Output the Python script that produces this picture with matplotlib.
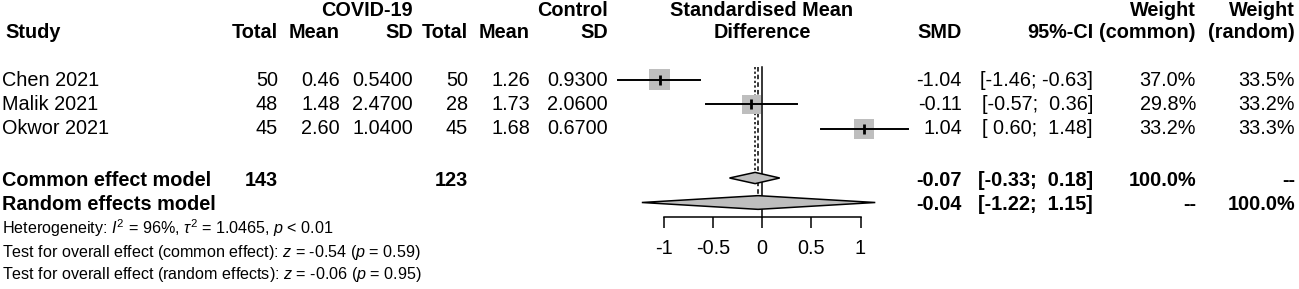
import numpy as np
import matplotlib.pyplot as plt
from matplotlib.patches import Rectangle, Polygon

# study level data
studies = ["Chen 2021", "Malik 2021", "Okwor 2021"]
n_covid = [50, 48, 45]
mean_covid = [0.46, 1.48, 2.60]
sd_covid = [0.54, 2.47, 1.04]
n_ctrl = [50, 28, 45]
mean_ctrl = [1.26, 1.73, 1.68]
sd_ctrl = [0.93, 2.06, 0.67]
smd = [-1.04, -0.11, 1.04]
ci_low = [-1.46, -0.57, 0.60]
ci_high = [-0.63, 0.36, 1.48]
w_common = [37.0, 29.8, 33.2]
w_random = [33.5, 33.2, 33.3]

# pooled results
model_names = ["Common effect model", "Random effects model"]
model_smd = [-0.07, -0.04]
model_low = [-0.33, -1.22]
model_high = [0.18, 1.15]
model_w_common = ["100.0%", "--"]
model_w_random = ["--", "100.0%"]
total_covid = 143
total_ctrl = 123

x_ticks = [-1, -0.5, 0, 0.5, 1]

het_text = r"Heterogeneity: $I^2$ = 96%, $\tau^2$ = 1.0465, $p$ < 0.01"
test_common = r"Test for overall effect (common effect): $z$ = -0.54 ($p$ = 0.59)"
test_random = r"Test for overall effect (random effects): $z$ = -0.06 ($p$ = 0.95)"

plt.rcParams["font.family"] = ["Liberation Sans", "DejaVu Sans"]
plt.rcParams["mathtext.fontset"] = "custom"
plt.rcParams["mathtext.rm"] = "Liberation Sans"
plt.rcParams["mathtext.it"] = "Liberation Sans:italic"
plt.rcParams["mathtext.bf"] = "Liberation Sans:bold"

W, H = 1299, 289
FS = 14.3
FS_SMALL = 11.6

fig = plt.figure(figsize=(W / 100, H / 100), dpi=100)

# text layer in pixel coordinates
ax = fig.add_axes([0, 0, 1, 1])
ax.set_xlim(0, W)
ax.set_ylim(H, 0)
ax.axis("off")

row_px = 24.5
first_row = 80


def row_y(r):
    return first_row + (r - 1) * row_px


study_rows = [1, 2, 3]
model_rows = [5, 6]

# column right edges
col = dict(nc=278, mc=340, sc=413, nk=468, mk=530, sk=608,
           smd=962, ci=1093, wc=1196, wr=1295)


def txt(x, y, s, ha="right", bold=False, size=FS):
    ax.text(x, y, s, ha=ha, va="center", fontsize=size,
            fontweight="bold" if bold else "normal")


# header
txt(5, 33, "Study", ha="left", bold=True)
txt(col["sc"], 10, "COVID-19", bold=True)
txt(col["sk"], 10, "Control", bold=True)
for key in ["nc", "nk"]:
    txt(col[key], 33, "Total", bold=True)
for key in ["mc", "mk"]:
    txt(col[key], 33, "Mean", bold=True)
for key in ["sc", "sk"]:
    txt(col[key], 33, "SD", bold=True)
txt(762, 10, "Standardised Mean", ha="center", bold=True)
txt(762, 33, "Difference", ha="center", bold=True)
txt(col["smd"], 33, "SMD", bold=True)
txt(col["ci"], 33, "95%-CI", bold=True)
txt(col["wc"], 10, "Weight", bold=True)
txt(col["wc"], 33, "(common)", bold=True)
txt(col["wr"], 10, "Weight", bold=True)
txt(col["wr"], 33, "(random)", bold=True)

# study rows
for i, r in enumerate(study_rows):
    y = row_y(r)
    txt(2, y, studies[i], ha="left")
    txt(col["nc"], y, f"{n_covid[i]}")
    txt(col["mc"], y, f"{mean_covid[i]:.2f}")
    txt(col["sc"], y, f"{sd_covid[i]:.4f}")
    txt(col["nk"], y, f"{n_ctrl[i]}")
    txt(col["mk"], y, f"{mean_ctrl[i]:.2f}")
    txt(col["sk"], y, f"{sd_ctrl[i]:.4f}")
    txt(col["smd"], y, f"{smd[i]:.2f}")
    txt(col["ci"], y, f"[{ci_low[i]:5.2f}; {ci_high[i]:5.2f}]")
    txt(col["wc"], y, f"{w_common[i]:.1f}%")
    txt(col["wr"], y, f"{w_random[i]:.1f}%")

# pooled rows
for j, r in enumerate(model_rows):
    y = row_y(r) + 2
    txt(2, y, model_names[j], ha="left", bold=True)
    if j == 0:
        txt(col["nc"], y, f"{total_covid}", bold=True)
        txt(col["nk"], y, f"{total_ctrl}", bold=True)
    txt(col["smd"], y, f"{model_smd[j]:.2f}", bold=True)
    txt(col["ci"], y, f"[{model_low[j]:5.2f}; {model_high[j]:5.2f}]", bold=True)
    txt(col["wc"], y, model_w_common[j], bold=True)
    txt(col["wr"], y, model_w_random[j], bold=True)

# footer
txt(2, 228, het_text, ha="left", size=FS_SMALL)
txt(2, 252, test_common, ha="left", size=FS_SMALL)
txt(2, 275, test_random, ha="left", size=FS_SMALL)

# forest panel
px_per_unit = 98.5
zero_px = 762
x_lo, x_hi = -1.6, 1.6
top_px, axis_px = 55, 217
left = (zero_px + x_lo * px_per_unit) / W
width = (x_hi - x_lo) * px_per_unit / W
bottom = 1 - axis_px / H
height = (axis_px - top_px) / H
fax = fig.add_axes([left, bottom, width, height])
fax.set_xlim(x_lo, x_hi)
r_top = 1 + (top_px - first_row) / row_px
r_bot = 1 + (axis_px - first_row) / row_px
fax.set_ylim(r_bot, r_top)
fax.patch.set_visible(False)
for s in ["top", "left", "right"]:
    fax.spines[s].set_visible(False)
fax.spines["bottom"].set_bounds(x_ticks[0], x_ticks[-1])
fax.spines["bottom"].set_linewidth(1.1)
fax.set_yticks([])
fax.set_xticks(x_ticks)
fax.set_xticklabels([f"{t:g}" for t in x_ticks], fontsize=FS)
fax.tick_params(axis="x", length=8, width=1.1, pad=8)

line_top = r_top + 0.5
# zero line
fax.plot([0, 0], [line_top, r_bot], color="black", lw=1.1, clip_on=False)

# pooled estimate reference lines
dh = [0.23, 0.28]
fax.plot([model_smd[0]] * 2, [line_top, model_rows[0] - dh[0]],
         color="black", lw=1.1, ls=(0, (1.5, 1.5)))
fax.plot([model_smd[1]] * 2, [line_top, model_rows[1] - dh[1]],
         color="black", lw=1.1, ls=(0, (3, 2)))

# study squares and CIs
w_max = max(w_common)
side_max = 21
for i, r in enumerate(study_rows):
    side = side_max * np.sqrt(w_common[i] / w_max)
    sw = side / px_per_unit
    sh = side / row_px
    fax.add_patch(Rectangle((smd[i] - sw / 2, r - sh / 2), sw, sh,
                            facecolor="#bebebe", edgecolor="none", zorder=2))
    fax.plot([ci_low[i], ci_high[i]], [r, r], color="black", lw=1.4, zorder=3,
             clip_on=False)
    fax.plot([smd[i]], [r], marker="|", ms=7, mew=2, color="black", zorder=4)

# diamonds
for j, r in enumerate(model_rows):
    d = dh[j]
    pts = [(model_low[j], r), (model_smd[j], r - d),
           (model_high[j], r), (model_smd[j], r + d)]
    fax.add_patch(Polygon(pts, closed=True, facecolor="#bebebe",
                          edgecolor="black", lw=1.1, zorder=3, clip_on=False))

fig.savefig("out.png", dpi=100)
